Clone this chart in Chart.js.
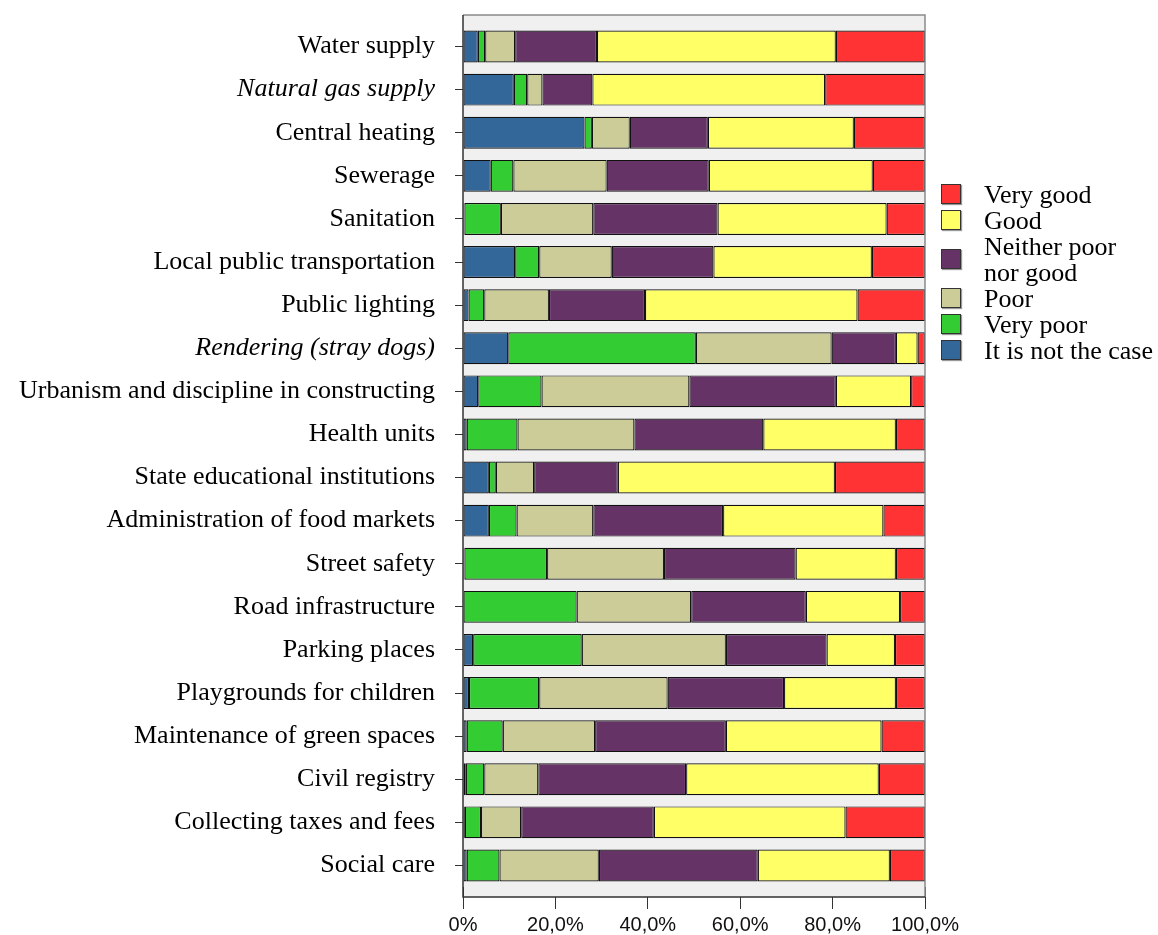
<!DOCTYPE html>
<html>
<head>
<meta charset="utf-8">
<script src="https://cdn.jsdelivr.net/npm/chart.js@4.4.1/dist/chart.umd.min.js"></script>
<style>
  body { margin: 0; background: #fff; }
  #wrap { position: relative; width: 1158px; height: 935px; }
  #legend { position: absolute; left: 941px; top: 182px; font-family: 'Liberation Serif', serif; font-size: 26px; line-height: 26px; color: #000; }
  .item { position: relative; padding-left: 43px; }
  .box { position: absolute; left: 0; width: 18px; height: 18px; border: 1px solid #333; box-shadow: 1px 1px 1px #999; }
</style>
</head>
<body>
<div id="wrap">
  <canvas id="chart" width="1158" height="935"></canvas>
  <div id="legend"></div>
</div>
<script>
const categories = [
  'Water supply', 'Natural gas supply', 'Central heating', 'Sewerage', 'Sanitation',
  'Local public transportation', 'Public lighting', 'Rendering (stray dogs)',
  'Urbanism and discipline in constructing', 'Health units', 'State educational institutions',
  'Administration of food markets', 'Street safety', 'Road infrastructure', 'Parking places',
  'Playgrounds for children', 'Maintenance of green spaces', 'Civil registry',
  'Collecting taxes and fees', 'Social care'
];
const italicCategories = ['Natural gas supply', 'Rendering (stray dogs)'];

const notTheCase = [3.2, 11.0, 26.3, 6.0, 0.3, 11.3, 1.2, 9.8, 3.3, 0.8, 5.6, 5.6, 0.3, 0, 2.2, 1.3, 0.8, 0.6, 0.4, 0.8];
const veryPoor   = [1.6, 2.9, 1.6, 4.9, 7.9, 5.2, 3.4, 40.6, 13.7, 11.0, 1.5, 6.0, 17.9, 24.6, 23.5, 15.2, 7.8, 4.0, 3.5, 7.1];
const poor       = [6.5, 3.3, 8.2, 20.2, 20.0, 15.7, 14.0, 29.4, 32.0, 25.3, 8.3, 16.6, 25.3, 24.8, 31.2, 27.8, 20.0, 11.7, 8.7, 21.5];
const neither    = [17.7, 10.8, 16.9, 22.1, 26.9, 22.0, 20.8, 13.9, 31.7, 27.9, 18.1, 28.1, 28.5, 24.8, 21.8, 25.2, 28.3, 32.0, 28.7, 34.4];
const good       = [51.7, 50.4, 31.6, 35.5, 36.6, 34.3, 46.0, 4.7, 16.3, 28.7, 47.0, 34.7, 21.7, 20.4, 14.8, 24.2, 33.7, 41.7, 41.5, 28.6];
const veryGood   = [19.3, 21.6, 15.4, 11.3, 8.3, 11.5, 14.6, 1.6, 3.0, 6.3, 19.5, 9.0, 6.3, 5.4, 6.5, 6.3, 9.4, 10.0, 17.2, 7.6];

const xTickLabels = ['0%', '20,0%', '40,0%', '60,0%', '80,0%', '100,0%'];

const series = [
  { label: 'It is not the case', data: notTheCase, color: '#336699' },
  { label: 'Very poor', data: veryPoor, color: '#33cc33' },
  { label: 'Poor', data: poor, color: '#cccc99' },
  { label: ['Neither poor', 'nor good'], data: neither, color: '#663366' },
  { label: 'Good', data: good, color: '#ffff66' },
  { label: 'Very good', data: veryGood, color: '#ff3333' }
];

// extra gray space above the first bar and below the last one
const PAD = 10;

const plotFrame = {
  id: 'plotFrame',
  beforeDraw(chart) {
    const { ctx, chartArea: a } = chart;
    ctx.save();
    ctx.fillStyle = '#f0f0f0';
    ctx.fillRect(a.left, a.top - PAD, a.right - a.left, a.bottom - a.top + 2 * PAD);
    ctx.restore();
  },
  afterDraw(chart) {
    const { ctx, chartArea: a } = chart;
    ctx.save();
    ctx.fillStyle = '#f0f0f0';
    ctx.fillRect(a.left + 1, a.bottom, a.right - a.left - 1, PAD);
    ctx.lineWidth = 1.5;
    ctx.strokeStyle = '#8a8a8a';
    ctx.beginPath();
    ctx.moveTo(a.left, a.top - PAD);
    ctx.lineTo(a.right, a.top - PAD);
    ctx.lineTo(a.right, a.bottom + PAD);
    ctx.stroke();
    ctx.strokeStyle = '#333';
    ctx.beginPath();
    ctx.moveTo(a.left, a.top - PAD);
    ctx.lineTo(a.left, a.bottom + PAD);
    ctx.lineTo(a.right, a.bottom + PAD);
    ctx.stroke();
    ctx.restore();
  }
};

new Chart(document.getElementById('chart'), {
  type: 'bar',
  data: {
    labels: categories,
    datasets: series.map(s => ({
      label: Array.isArray(s.label) ? s.label.join(' ') : s.label,
      data: s.data,
      backgroundColor: s.color,
      borderColor: '#111',
      borderWidth: 1.2,
      borderSkipped: false,
      barPercentage: 0.74,
      categoryPercentage: 1
    }))
  },
  options: {
    indexAxis: 'y',
    responsive: false,
    animation: false,
    layout: { padding: { top: 25, right: 233, bottom: 0, left: 0 } },
    plugins: { legend: { display: false }, tooltip: { enabled: false } },
    scales: {
      x: {
        stacked: true,
        min: 0,
        max: 100,
        border: { display: false },
        grid: { drawOnChartArea: false, tickLength: 22, color: '#333' },
        ticks: {
          stepSize: 20,
          padding: 4,
          color: '#111',
          font: { family: 'Liberation Sans', size: 20 },
          callback: (v, i) => xTickLabels[i]
        },
        afterFit: s => { s.height = 48; s.paddingLeft = 0; s.paddingRight = 0; }
      },
      y: {
        stacked: true,
        border: { display: false },
        grid: { drawOnChartArea: false, offset: false, tickLength: 8, color: '#333' },
        ticks: {
          padding: 20,
          color: '#000',
          autoSkip: false,
          font: c => ({
            family: 'Liberation Serif',
            size: 26,
            style: italicCategories.includes(categories[c.index]) ? 'italic' : 'normal'
          })
        },
        afterFit: s => { s.width = 463; s.paddingTop = 0; s.paddingBottom = 0; }
      }
    }
  },
  plugins: [plotFrame]
});

const legend = document.getElementById('legend');
series.slice().reverse().forEach(s => {
  const lines = Array.isArray(s.label) ? s.label : [s.label];
  const item = document.createElement('div');
  item.className = 'item';
  const box = document.createElement('span');
  box.className = 'box';
  box.style.background = s.color;
  box.style.top = (lines.length * 13 - 11) + 'px';
  item.appendChild(box);
  item.innerHTML += lines.join('<br>');
  legend.appendChild(item);
});
</script>
</body>
</html>
